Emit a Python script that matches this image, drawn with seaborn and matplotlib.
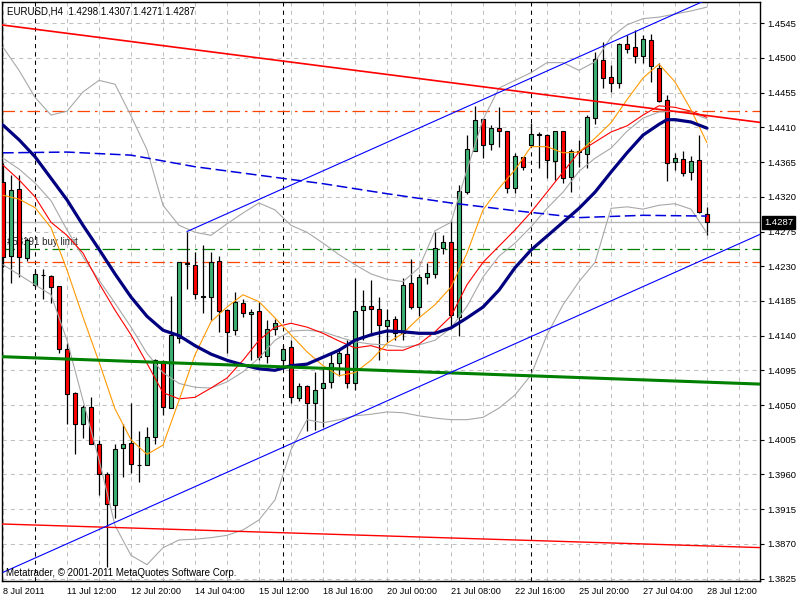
import numpy as np
import pandas as pd
import matplotlib
matplotlib.use("Agg")
import matplotlib.pyplot as plt
import matplotlib.transforms as mtransforms
import seaborn as sns

sns.set_style("white")
plt.rcParams['font.family'] = ['Liberation Sans', 'DejaVu Sans']

# ---------------- data (EURUSD H4) ----------------
bar_open = [1.4339, 1.4243, 1.4330, 1.4241, 1.4205, 1.4218, 1.4217, 1.4204, 1.4123, 1.4065,
            1.4026, 1.4048, 1.3999, 1.3961, 1.3920, 1.3994, 1.4001, 1.3972, 1.3972, 1.4008,
            1.4107, 1.4046, 1.4137, 1.4234, 1.4232, 1.4191, 1.4190, 1.4237, 1.4173, 1.4147,
            1.4182, 1.4168, 1.4172, 1.4113, 1.4148, 1.4108, 1.4125, 1.4059, 1.4075, 1.4052,
            1.4072, 1.4080, 1.4104, 1.4116, 1.4078, 1.4173, 1.4178, 1.4175, 1.4152, 1.4161,
            1.4143, 1.4208, 1.4177, 1.4216, 1.4220, 1.4253, 1.4261, 1.4164, 1.4326, 1.4380,
            1.4421, 1.4389, 1.4409, 1.4405, 1.4331, 1.4371, 1.4387, 1.4400, 1.4400, 1.4367,
            1.4405, 1.4346, 1.4378, 1.4376, 1.4422, 1.4498, 1.4475, 1.4468, 1.4518, 1.4514,
            1.4503, 1.4523, 1.4487, 1.4446, 1.4365, 1.4369, 1.4352, 1.4368, 1.4298]
bar_high = [1.4364, 1.4348, 1.4348, 1.4266, 1.4225, 1.4227, 1.4218, 1.4204, 1.4131, 1.4067,
            1.4050, 1.4061, 1.4005, 1.3963, 1.3999, 1.4026, 1.4053, 1.4016, 1.4022, 1.4110,
            1.4108, 1.4192, 1.4235, 1.4274, 1.4248, 1.4257, 1.4248, 1.4243, 1.4175, 1.4197,
            1.4188, 1.4174, 1.4184, 1.4160, 1.4161, 1.4128, 1.4134, 1.4078, 1.4076, 1.4093,
            1.4098, 1.4119, 1.4124, 1.4134, 1.4215, 1.4199, 1.4212, 1.4190, 1.4175, 1.4166,
            1.4215, 1.4239, 1.4220, 1.4234, 1.4274, 1.4270, 1.4290, 1.4335, 1.4400, 1.4438,
            1.4422, 1.4413, 1.4437, 1.4405, 1.4377, 1.4372, 1.4416, 1.4404, 1.4402, 1.4405,
            1.4405, 1.4382, 1.4394, 1.4426, 1.4508, 1.4521, 1.4491, 1.4519, 1.4530, 1.4536,
            1.4530, 1.4531, 1.4493, 1.4452, 1.4377, 1.4379, 1.4373, 1.4400, 1.4307]
bar_low = [1.4229, 1.4208, 1.4216, 1.4237, 1.4203, 1.4188, 1.4182, 1.4117, 1.4026, 1.3986,
           1.4007, 1.4000, 1.3933, 1.3840, 1.3903, 1.3957, 1.3962, 1.3950, 1.3972, 1.4000,
           1.4037, 1.4046, 1.4130, 1.4201, 1.4188, 1.4169, 1.4160, 1.4145, 1.4117, 1.4141,
           1.4164, 1.4108, 1.4108, 1.4104, 1.4141, 1.4100, 1.4053, 1.4055, 1.4016, 1.4018,
           1.4022, 1.4072, 1.4087, 1.4072, 1.4069, 1.4134, 1.4143, 1.4108, 1.4132, 1.4134,
           1.4134, 1.4175, 1.4166, 1.4207, 1.4215, 1.4246, 1.4151, 1.4139, 1.4324, 1.4380,
           1.4370, 1.4381, 1.4384, 1.4325, 1.4325, 1.4355, 1.4384, 1.4357, 1.4344, 1.4342,
           1.4338, 1.4326, 1.4359, 1.4357, 1.4415, 1.4461, 1.4456, 1.4461, 1.4506, 1.4493,
           1.4493, 1.4469, 1.4443, 1.4341, 1.4355, 1.4347, 1.4342, 1.4299, 1.4271]
bar_close = [1.4242, 1.4329, 1.4242, 1.4264, 1.4220, 1.4219, 1.4203, 1.4122, 1.4064, 1.4026,
             1.4048, 1.4000, 1.3960, 1.3921, 1.3993, 1.4000, 1.3973, 1.3972, 1.4008, 1.4108,
             1.4047, 1.4141, 1.4235, 1.4233, 1.4194, 1.4190, 1.4235, 1.4172, 1.4145, 1.4184,
             1.4169, 1.4170, 1.4112, 1.4148, 1.4156, 1.4123, 1.4060, 1.4075, 1.4052, 1.4070,
             1.4078, 1.4104, 1.4117, 1.4078, 1.4172, 1.4178, 1.4174, 1.4154, 1.4160, 1.4143,
             1.4206, 1.4177, 1.4216, 1.4221, 1.4253, 1.4261, 1.4167, 1.4328, 1.4382, 1.4420,
             1.4387, 1.4409, 1.4405, 1.4331, 1.4373, 1.4358, 1.4402, 1.4401, 1.4368, 1.4405,
             1.4344, 1.4380, 1.4380, 1.4423, 1.4499, 1.4474, 1.4467, 1.4518, 1.4512, 1.4502,
             1.4524, 1.4489, 1.4444, 1.4364, 1.4370, 1.4351, 1.4367, 1.4300, 1.4287]

# indicator readings (bar index -> price)
half_bars = list(range(0, 89, 2))

navy_bars = list(range(0, 83, 2)) + [83, 84, 86, 88]
navy_ma = [1.4413, 1.4394, 1.4372, 1.4344, 1.4316, 1.4283, 1.4252, 1.4220, 1.4190, 1.4165,
           1.4147, 1.4140, 1.4127, 1.4116, 1.4108, 1.4102, 1.4097, 1.4095, 1.4101, 1.4103,
           1.4112, 1.4121, 1.4134, 1.4141, 1.4146, 1.4145, 1.4143, 1.4143, 1.4150, 1.4163,
           1.4177, 1.4199, 1.4228, 1.4251, 1.4269, 1.4287, 1.4305, 1.4326, 1.4352, 1.4377,
           1.4400, 1.4414, 1.4420, 1.4420, 1.4417, 1.4409]

red_ma = [1.4361, 1.4342, 1.4320, 1.4287, 1.4270, 1.4247, 1.4208, 1.4173, 1.4141, 1.4104,
          1.4066, 1.4058, 1.4060, 1.4072, 1.4085, 1.4108, 1.4134, 1.4151, 1.4156, 1.4151,
          1.4143, 1.4133, 1.4124, 1.4127, 1.4121, 1.4121, 1.4129, 1.4145, 1.4165, 1.4206,
          1.4235, 1.4256, 1.4277, 1.4300, 1.4326, 1.4352, 1.4378, 1.4391, 1.4404, 1.4412,
          1.4426, 1.4438, 1.4436, 1.4431, 1.4423]

orange_ma = [1.4322, 1.4317, 1.4306, 1.4280, 1.4225, 1.4164, 1.4106, 1.4045, 1.4005, 1.3986,
             1.3998, 1.4056, 1.4115, 1.4158, 1.4177, 1.4193, 1.4184, 1.4163, 1.4141, 1.4119,
             1.4101, 1.4088, 1.4092, 1.4108, 1.4130, 1.4143, 1.4163, 1.4180, 1.4203, 1.4247,
             1.4303, 1.4331, 1.4355, 1.4385, 1.4385, 1.4377, 1.4378, 1.4396, 1.4416, 1.4446,
             1.4474, 1.4492, 1.4469, 1.4433, 1.4390]
bb_upper = [1.4514, 1.4484, 1.4449, 1.4426, 1.4431, 1.4456, 1.4471, 1.4466, 1.4425, 1.4381,
            1.4309, 1.4283, 1.4274, 1.4270, 1.4285, 1.4299, 1.4312, 1.4303, 1.4283, 1.4274,
            1.4260, 1.4245, 1.4232, 1.4220, 1.4213, 1.4210, 1.4228, 1.4276, 1.4287, 1.4355,
            1.4420, 1.4461, 1.4471, 1.4481, 1.4494, 1.4494, 1.4484, 1.4495, 1.4527, 1.4543,
            1.4551, 1.4553, 1.4557, 1.4561, 1.4566]
bb_middle = [1.4370, 1.4356, 1.4338, 1.4315, 1.4277, 1.4242, 1.4212, 1.4182, 1.4151, 1.4117,
             1.4092, 1.4078, 1.4073, 1.4072, 1.4080, 1.4093, 1.4111, 1.4134, 1.4146, 1.4147,
             1.4145, 1.4138, 1.4132, 1.4129, 1.4128, 1.4125, 1.4128, 1.4134, 1.4150, 1.4178,
             1.4216, 1.4243, 1.4260, 1.4281, 1.4305, 1.4326, 1.4353, 1.4370, 1.4383, 1.4405,
             1.4422, 1.4430, 1.4431, 1.4429, 1.4421]
bb_lower = [1.4232, 1.4219, 1.4206, 1.4193, 1.4134, 1.4056, 1.3979, 1.3894, 1.3855, 1.3843,
            1.3865, 1.3875, 1.3876, 1.3878, 1.3881, 1.3888, 1.3901, 1.3927, 1.3992, 1.4031,
            1.4027, 1.4031, 1.4036, 1.4038, 1.4041, 1.4040, 1.4036, 1.4033, 1.4031, 1.4031,
            1.4034, 1.4046, 1.4063, 1.4089, 1.4141, 1.4180, 1.4210, 1.4235, 1.4305, 1.4307,
            1.4304, 1.4309, 1.4311, 1.4304, 1.4273]

slow_bars = list(range(0, 89, 8))
slow_ma = [1.4377, 1.4378, 1.4374, 1.4359, 1.4348, 1.4337, 1.4324, 1.4312, 1.4302, 1.4293,
           1.4296, 1.4295]

# drawn objects (bar index, price)
red_top_line = ([-1, 95], [1.4544, 1.4416])
red_bottom_line = ([-1, 95], [1.3896, 1.3865])
green_line = ([-1, 95], [1.4113, 1.4077])
blue_lower_line = ([0, 95], [1.3833, 1.4273])
blue_upper_line = ([23, 95], [1.4275, 1.4608])

bid_price = 1.4287
order_level = 1.4252
stop_level = 1.4235
target_level = 1.4431
week_separators = [4, 35, 66]

price_ticks = [1.4545, 1.4500, 1.4455, 1.4410, 1.4365, 1.4320, 1.4275, 1.4230, 1.4185,
               1.4140, 1.4095, 1.4050, 1.4005, 1.3960, 1.3915, 1.3870, 1.3825]
time_label_bars = [0, 8, 16, 24, 32, 40, 48, 56, 64, 72, 80, 88]
time_labels = ["8 Jul 2011", "11 Jul 12:00", "12 Jul 20:00", "14 Jul 04:00", "15 Jul 12:00",
               "18 Jul 16:00", "20 Jul 00:00", "21 Jul 08:00", "22 Jul 16:00", "25 Jul 20:00",
               "27 Jul 04:00", "28 Jul 12:00"]
grid_bars = list(range(0, 93, 4))

# ---------------- figure ----------------
fig = plt.figure(figsize=(8, 6), dpi=100)
ax = fig.add_axes([2 / 800, 19 / 600, 758 / 800, 579 / 600])
ax.set_facecolor("white")

XMIN, XMAX = -0.125, 94.625
YMIN, YMAX = 1.38218, 1.45726

# grid
ax.hlines(price_ticks, XMIN, XMAX, colors="#C0C0C0", linewidth=0.75,
          linestyles=(0, (4, 4)), zorder=1)
ax.vlines(grid_bars, YMIN, YMAX, colors="#C0C0C0", linewidth=0.75,
          linestyles=(0, (4, 4)), zorder=1)
ax.vlines(week_separators, YMIN, YMAX, colors="black", linewidth=0.75,
          linestyles=(0, (4, 4)), zorder=1.5)

# horizontal levels
ax.axhline(bid_price, color="#B8B8B8", linewidth=1.0, zorder=1.6)
ax.axhline(order_level, color="#008000", linewidth=0.9, linestyle=(0, (10, 4, 2, 4)), zorder=1.6)
ax.axhline(stop_level, color="#FF4500", linewidth=0.9, linestyle=(0, (10, 4, 2, 4)), zorder=1.6)
ax.axhline(target_level, color="#FF4500", linewidth=0.9, linestyle=(0, (10, 4, 2, 4)), zorder=1.6)

ax.text(0.5, 1.4261, "#58191 buy limit", fontsize=7, va="center", ha="left", zorder=2)

# candles
idx = np.arange(len(bar_open))
o = np.array(bar_open); h = np.array(bar_high); l = np.array(bar_low); c = np.array(bar_close)
up = c >= o
ax.vlines(idx, l, h, colors="black", linewidth=0.9, zorder=3)
ax.bar(idx[up], (c - o)[up], bottom=o[up], width=0.62, color="#3CB371",
       edgecolor="black", linewidth=0.8, zorder=4)
ax.bar(idx[~up], (o - c)[~up], bottom=c[~up], width=0.62, color="#FF0000",
       edgecolor="black", linewidth=0.8, zorder=4)


def sline(xb, yv, color, lw, ls="-", z=5):
    df = pd.DataFrame({"bar": xb, "price": yv})
    sns.lineplot(data=df, x="bar", y="price", ax=ax, color=color, linewidth=lw,
                 linestyle=ls, zorder=z, estimator=None, sort=False, legend=False)


# indicators
sline(half_bars, bb_upper, "#A8A8A8", 0.8)
sline(half_bars, bb_middle, "#A8A8A8", 0.8)
sline(half_bars, bb_lower, "#A8A8A8", 0.8)
sline(slow_bars, slow_ma, "#0000DD", 1.1, ls=(0, (7, 3)))
sline(half_bars, red_ma, "#FF0000", 0.8)
sline(half_bars, orange_ma, "#FF9900", 0.8)
sline(navy_bars, navy_ma, "#000080", 2.3)

# trend objects
sline(*red_top_line, "#FF0000", 1.2)
sline(*red_bottom_line, "#FF0000", 1.0)
sline(*green_line, "#008000", 2.2)
sline(*blue_lower_line, "#0000FF", 0.8)
sline(*blue_upper_line, "#0000FF", 0.8)

ax.set_xlim(XMIN, XMAX)
ax.set_ylim(YMIN, YMAX)
ax.set_xlabel("")
ax.set_ylabel("")

# axes styling
for sp in ax.spines.values():
    sp.set_visible(True)
    sp.set_color("black")
    sp.set_linewidth(1.0)

ax.yaxis.tick_right()
ax.set_yticks(price_ticks)
ax.set_yticklabels([f"{p:.4f}" for p in price_ticks])
ax.tick_params(axis="y", direction="out", length=3, width=0.8, pad=2, labelsize=6.8,
               colors="black")
ax.set_xticks(time_label_bars)
ax.set_xticklabels(time_labels, ha="left")
ax.tick_params(axis="x", direction="out", length=3, width=0.8, pad=1.5, labelsize=6.6,
               colors="black")
for t in ax.get_xticklabels():
    t.set_ha("left")

trans = mtransforms.blended_transform_factory(ax.transAxes, ax.transData)
ax.text(1.0 + 4 / 758, bid_price, "1.4287", transform=trans, ha="left", va="center",
        color="white", fontsize=6.8, zorder=10, clip_on=False,
        bbox=dict(boxstyle="square,pad=0.2", facecolor="black", edgecolor="black"))

ax.text(5 / 758, 1 - 10 / 579, "EURUSD,H4  1.4298 1.4307 1.4271 1.4287", transform=ax.transAxes,
        ha="left", va="center", fontsize=7, color="black", zorder=10)
ax.text(4 / 758, 8 / 579, "Metatrader, \u00a9 2001-2011 MetaQuotes Software Corp.",
        transform=ax.transAxes, ha="left", va="center", fontsize=7, color="black", zorder=10)

fig.savefig("out.png", dpi=100)
